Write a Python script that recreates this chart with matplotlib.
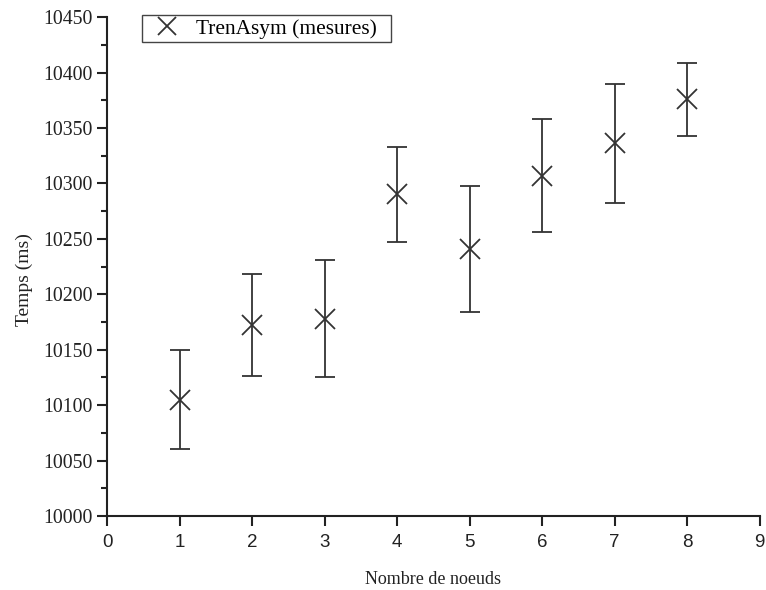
import matplotlib
matplotlib.use("Agg")
import matplotlib.pyplot as plt
from matplotlib.ticker import MultipleLocator
from matplotlib.lines import Line2D

nodes = [1, 2, 3, 4, 5, 6, 7, 8]
temps = [10105, 10172, 10178, 10290, 10241, 10307, 10336, 10376]
errors = [45, 46, 53, 43, 57, 51, 54, 33]
x_ticks = [0, 1, 2, 3, 4, 5, 6, 7, 8, 9]
y_ticks = [10000, 10050, 10100, 10150, 10200, 10250, 10300, 10350, 10400, 10450]

fig = plt.figure(figsize=(7.66, 5.9), dpi=100)
ax = fig.add_axes([0.1397, 0.1254, 0.852, 0.8456])

col = '#333333'
ax.errorbar(nodes, temps, yerr=errors, fmt='x', color=col, ecolor=col,
            markersize=14, markeredgewidth=1.3, elinewidth=1.3,
            capsize=7, capthick=1.3)

ax.set_xlim(0, 9)
ax.set_ylim(10000, 10450)
ax.set_xticks(x_ticks)
ax.set_yticks(y_ticks)
ax.yaxis.set_minor_locator(MultipleLocator(25))

for s in ['top', 'right']:
    ax.spines[s].set_visible(False)
for s in ['left', 'bottom']:
    ax.spines[s].set_linewidth(1.5)
    ax.spines[s].set_color('#222222')

ax.tick_params(axis='both', which='major', direction='out', length=7, width=1.5, color='#222222')
ax.tick_params(axis='x', which='major', pad=6)
ax.tick_params(axis='y', which='minor', direction='out', length=4, width=1.5, color='#222222')

for lbl in ax.get_yticklabels():
    lbl.set_fontfamily('Liberation Serif')
    lbl.set_fontsize(14.3)
    lbl.set_color('#222222')
for lbl in ax.get_xticklabels():
    lbl.set_fontfamily('Liberation Sans')
    lbl.set_fontsize(13.5)
    lbl.set_color('#222222')

ax.set_xlabel('Nombre de noeuds', fontfamily='Liberation Serif', fontsize=13, color='#222222', labelpad=14)
ax.set_ylabel('Temps (ms)', fontfamily='Liberation Serif', fontsize=14, color='#222222')
ax.yaxis.set_label_coords(-0.114, 0.473)

handle = Line2D([], [], marker='x', linestyle='none', color=col, markersize=13, markeredgewidth=1.3)
leg = ax.legend([handle], ['TrenAsym (mesures)  '], loc='upper left', bbox_to_anchor=(0.0536, 1.004),
                frameon=True, fancybox=False, edgecolor='#444444', framealpha=1,
                borderpad=0.17, handletextpad=0.35, handlelength=2.0, borderaxespad=0,
                prop={'family': 'Liberation Serif', 'size': 15.4})
leg.get_frame().set_linewidth(1.0)

fig.savefig('out.png', dpi=100)
